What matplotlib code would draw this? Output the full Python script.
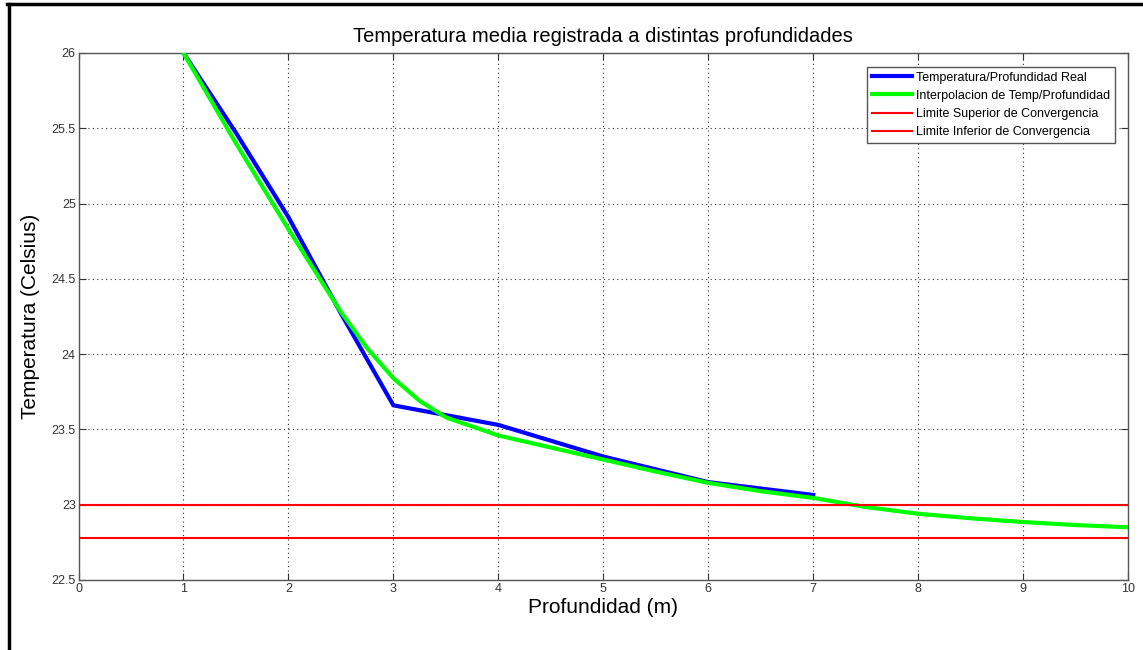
import matplotlib.pyplot as plt
from matplotlib.lines import Line2D

plt.rcParams['font.family'] = ['Liberation Sans', 'DejaVu Sans']

# datos medidos (temperatura real por profundidad)
prof_real = [1, 1.5, 2, 2.5, 3, 4, 5, 6, 7]
temp_real = [26.0, 25.47, 24.91, 24.27, 23.66, 23.53, 23.32, 23.15, 23.065]

# curva de interpolacion
prof_interp = [1, 1.5, 2, 2.5, 2.75, 3, 3.25, 3.5, 4, 4.5, 5, 5.5, 6, 6.5, 7, 7.5, 8, 8.5, 9, 9.5, 10]
temp_interp = [26.0, 25.4, 24.83, 24.28, 24.04, 23.84, 23.69, 23.58, 23.46, 23.38, 23.30, 23.22,
               23.145, 23.09, 23.045, 22.985, 22.94, 22.91, 22.885, 22.865, 22.85]

lim_sup = 23.0
lim_inf = 22.78

xticks = list(range(0, 11))
yticks = [22.5, 23, 23.5, 24, 24.5, 25, 25.5, 26]
ytick_labels = ['22.5', '23', '23.5', '24', '24.5', '25', '25.5', '26']

fig = plt.figure(figsize=(11.43, 6.5), dpi=100)
ax = fig.add_axes([0.0687, 0.1077, 0.9182, 0.8108])

ax.plot(prof_real, temp_real, color='#0000ff', lw=3, label='Temperatura/Profundidad Real', zorder=3)
ax.plot(prof_interp, temp_interp, color='#00ff00', lw=3, label='Interpolacion de Temp/Profundidad', zorder=4)
ax.plot([0, 10], [lim_sup, lim_sup], color='#ff0000', lw=1.5, label='Limite Superior de Convergencia', zorder=5)
ax.plot([0, 10], [lim_inf, lim_inf], color='#ff0000', lw=1.5, label='Limite Inferior de Convergencia', zorder=5)

ax.set_xlim(0, 10)
ax.set_ylim(22.5, 26)
ax.set_xticks(xticks)
ax.set_yticks(yticks)
ax.set_yticklabels(ytick_labels)
ax.tick_params(direction='in', length=5, top=True, right=True, labelsize=9,
               labelcolor='#333333', color='#333333', pad=2)
ax.grid(True, color='#333333', linestyle=(0, (1, 3)), lw=0.8)
for s in ax.spines.values():
    s.set_color('#555555')
    s.set_linewidth(1)

ax.set_title('Temperatura media registrada a distintas profundidades', fontsize=14.5, pad=8)
ax.set_xlabel('Profundidad (m)', fontsize=15, labelpad=2)
ax.set_ylabel('Temperatura (Celsius)', fontsize=15, labelpad=8)

leg = ax.legend(loc='upper right', fontsize=9, fancybox=False, framealpha=1,
                edgecolor='#555555', handlelength=3.2, handletextpad=0.3,
                labelspacing=0.5, borderpad=0.4, bbox_to_anchor=(0.9935, 0.986))
leg.get_frame().set_linewidth(1)

# marco negro de la captura (izquierda y arriba)
fig.add_artist(Line2D([0.0075, 0.0075], [0, 0.994], color='black', lw=2.5, transform=fig.transFigure))
fig.add_artist(Line2D([0.0065, 1], [0.994, 0.994], color='black', lw=2.5, transform=fig.transFigure))

fig.savefig('out.png', dpi=100)
